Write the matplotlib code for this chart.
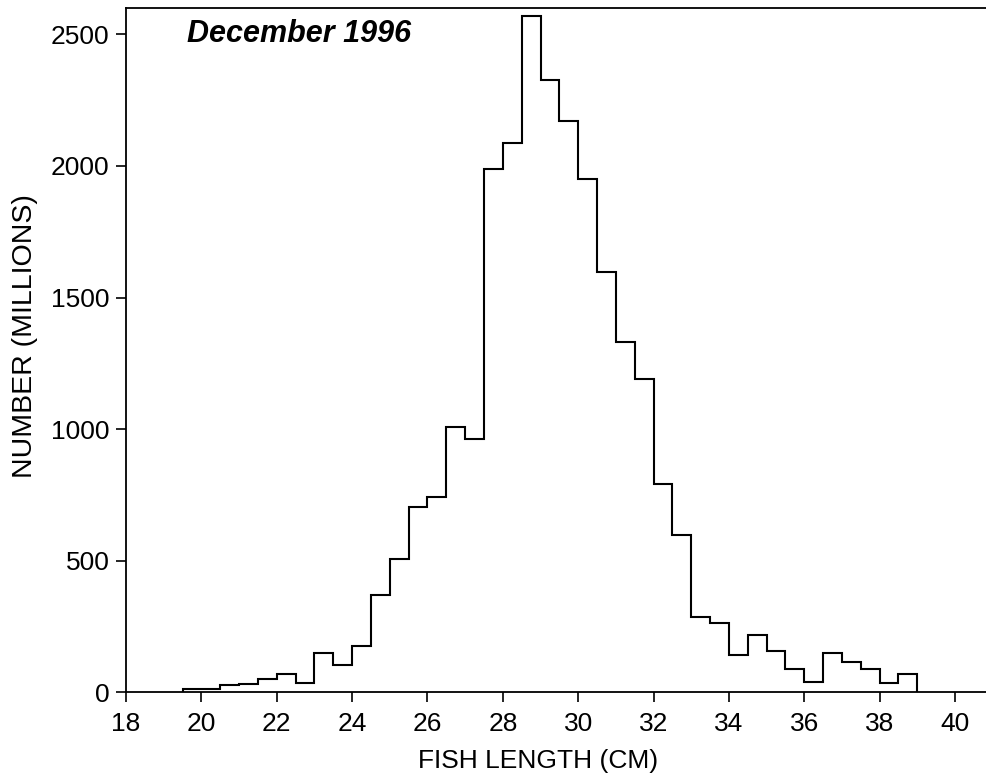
import numpy as np
import matplotlib
matplotlib.use("Agg")
import matplotlib.pyplot as plt

plt.rcParams['font.family'] = ['Liberation Sans', 'DejaVu Sans']

# Length-frequency distribution, 0.5 cm length classes starting at 19.5 cm
class_start = 19.5
class_width = 0.5
numbers = [
    12, 13, 28, 30, 50, 68, 35, 150, 104, 177,      # 19.5 - 24.0
    370, 505, 704, 742, 1008, 961, 1988, 2088, 2570, 2327,  # 24.5 - 29.0
    2169, 1950, 1598, 1332, 1190, 790, 596, 285, 264, 142,  # 29.5 - 34.0
    218, 156, 88, 41, 149, 117, 88, 35, 68,                 # 34.5 - 38.5
]
edges = class_start + class_width * np.arange(len(numbers) + 1)

x_ticks = [18, 20, 22, 24, 26, 28, 30, 32, 34, 36, 38, 40]
y_ticks = [0, 500, 1000, 1500, 2000, 2500]

fig = plt.figure(figsize=(9.87, 7.83), dpi=100)
ax = fig.add_axes([0.1277, 0.1158, 1.0 - 0.1277, 0.874])

ax.stairs(numbers, edges, baseline=0, fill=False, color='black', linewidth=1.5)

ax.set_xlim(18, 40.85)
ax.set_ylim(0, 2600)
ax.set_xticks(x_ticks)
ax.set_yticks(y_ticks)

for side in ('left', 'bottom', 'top'):
    ax.spines[side].set_linewidth(1.3)
ax.spines['right'].set_visible(False)

ax.tick_params(axis='both', direction='out', length=7, width=1.2,
               labelsize=19, colors='black')
ax.tick_params(axis='y', pad=5)
ax.tick_params(axis='x', pad=7)

ax.set_xlabel('FISH LENGTH (CM)', fontsize=19)
ax.xaxis.set_label_coords(0.479, -0.083)
ax.set_ylabel('NUMBER (MILLIONS)', fontsize=20.5)
ax.yaxis.set_label_coords(-0.102, 0.52)

ax.text(0.0708, 0.9503, 'December 1996', transform=ax.transAxes,
        fontsize=22, fontweight='bold', fontstyle='italic',
        ha='left', va='baseline')

fig.savefig('out.png', dpi=100)
